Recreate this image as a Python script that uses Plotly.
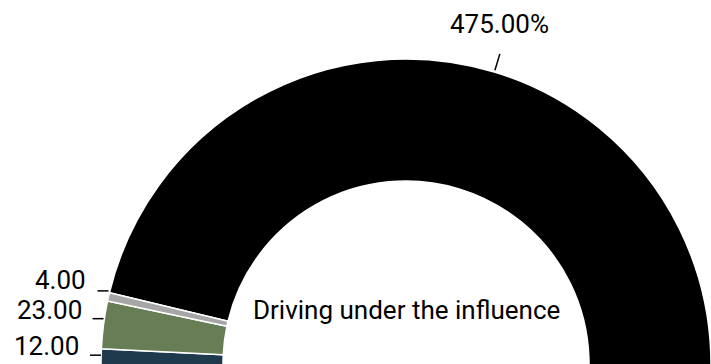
import math
import plotly.graph_objects as go

# ---- data (clockwise order starting at the black slice) ----
categories = ["Alcohol", "Other", "Alcohol and drugs", "Drugs", "Unknown"]
values = [475, 402, 12, 23, 4]
text_labels = ["475.00%", "", "12.00", "23.00", "4.00"]
colors = ["#000000", "#8a8a8a", "#1f3a4c", "#667d55", "#a6a6a6"]
center_title = "Driving under the influence"

# ---- geometry / style ----
W, H = 812, 728
CX, CY, R = 406, 364, 305
ROTATION = -76.5
FONT = dict(family="Roboto", size=26, color="#000000")

fig = go.Figure(go.Pie(
    labels=categories,
    values=values,
    textinfo="none",
    hole=0.6,
    sort=False,
    direction="clockwise",
    rotation=ROTATION,
    marker=dict(colors=colors, line=dict(color="#ffffff", width=1.5)),
    showlegend=False,
    domain=dict(x=[(CX - R) / W, (CX + R) / W], y=[1 - (CY + R) / H, 1 - (CY - R) / H]),
))


def px(x):
    return x / W


def py(y):
    return 1 - y / H


# compute label anchors from the slice mid-angles
total = float(sum(values))
start = ROTATION
side = []
for v, t in zip(values, text_labels):
    span = v / total * 360.0
    mid = math.radians(start + span / 2)
    start += span
    if not t:
        continue
    sx, cy_up = math.sin(mid), math.cos(mid)
    if abs(sx) > 0.7:
        ex = CX + R * sx
        ey = CY - R * cy_up - 6
        sgn = 1 if sx > 0 else -1
        lx = ex + sgn * 11
        side.append([ey - 9, ey, ex, lx, sgn, t])
    else:
        x0, y0 = CX + (R + 2) * sx, CY - (R + 2) * cy_up
        x1, y1 = CX + (R + 19) * sx, CY - (R + 19) * cy_up
        fig.add_shape(type="line", xref="paper", yref="paper",
                      x0=px(x0), y0=py(y0), x1=px(x1), y1=py(y1),
                      line=dict(color="#000000", width=1.5))
        fig.add_annotation(text=t, xref="paper", yref="paper",
                           x=px(x1), y=py(y1 - 13), xanchor="center", yanchor="bottom",
                           showarrow=False, font=FONT)

# spread side labels so they do not overlap (keep the lowest one in place)
side.sort(key=lambda s: -s[0])
for i in range(1, len(side)):
    if side[i - 1][0] - side[i][0] < 30:
        side[i][0] = side[i - 1][0] - 30

for ty, ly, ex, lx, sgn, t in side:
    fig.add_shape(type="line", xref="paper", yref="paper",
                  x0=px(ex), y0=py(ly), x1=px(lx), y1=py(ly),
                  line=dict(color="#000000", width=1.5))
    fig.add_annotation(text=t, xref="paper", yref="paper",
                       x=px(lx + sgn * 9), y=py(ty),
                       xanchor="left" if sgn > 0 else "right", yanchor="middle",
                       showarrow=False, font=FONT)

fig.add_annotation(
    text=center_title,
    xref="paper", yref="paper", x=px(CX), y=py(310),
    xanchor="center", yanchor="middle", showarrow=False, font=FONT,
)

fig.update_layout(
    width=W, height=H,
    margin=dict(l=0, r=0, t=0, b=0),
    paper_bgcolor="#ffffff", plot_bgcolor="#ffffff",
    font=FONT,
)

fig.write_html("out.html")
